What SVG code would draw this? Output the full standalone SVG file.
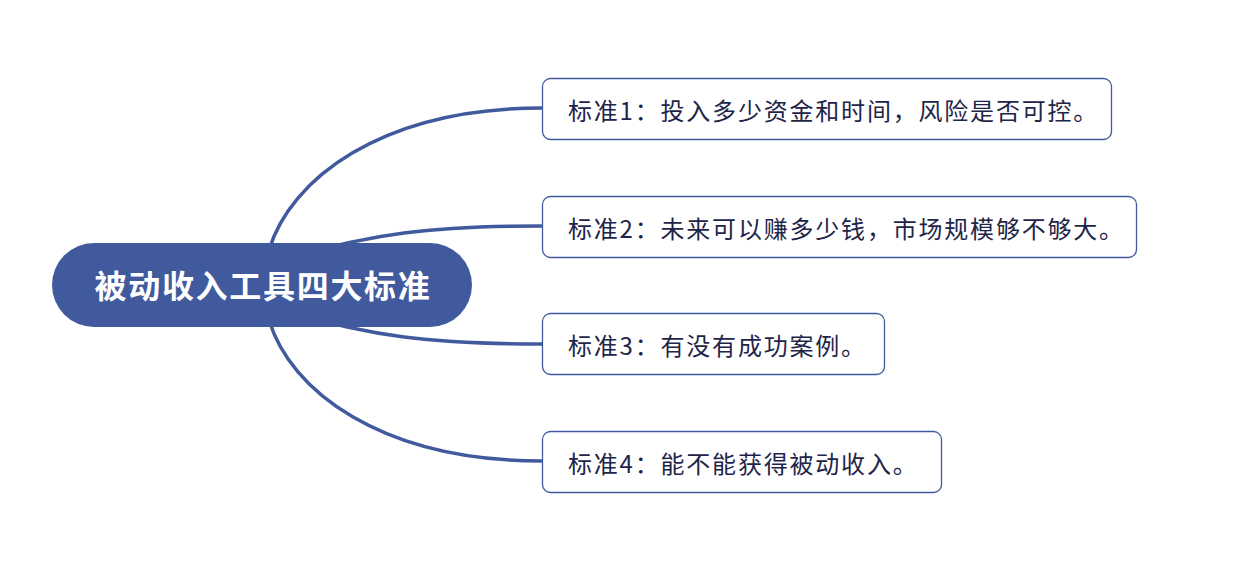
<svg xmlns="http://www.w3.org/2000/svg" width="1240" height="579" viewBox="0 0 1240 579">
<style>
.conn{fill:none;stroke:#415A9E;stroke-width:3.5;stroke-linecap:round}
.box{fill:#ffffff;stroke:#415A9E;stroke-width:1.3}
.lbl{font-family:"Microsoft YaHei","Noto Sans CJK SC",sans-serif;font-size:24px;fill:#1e2548;letter-spacing:1.8px}
.root{font-family:"Microsoft YaHei","Noto Sans CJK SC",sans-serif;font-size:32px;font-weight:bold;fill:#ffffff;letter-spacing:1.7px}
</style>
<rect width="1240" height="579" fill="#ffffff"/>
<g id="connectors">
<path class="conn" d="M269,250 C290,180 380,108 542,108"/>
<path class="conn" d="M290,258 C370,234 430,226 542,226"/>
<path class="conn" d="M290,312 C370,336 430,344 542,344"/>
<path class="conn" d="M269,320 C290,390 380,461 542,461"/>
</g>
<g id="root">
<rect x="52" y="243" width="420" height="84" rx="42" fill="#415A9E"/>
<text class="root" x="263" y="298" text-anchor="middle">被动收入工具四大标准</text>
</g>
<g id="n1">
<rect class="box" x="542.5" y="78.5" width="569" height="61" rx="8"/>
<text class="lbl" x="568" y="120">标准1：投入多少资金和时间，风险是否可控。</text>
</g>
<g id="n2">
<rect class="box" x="542.5" y="196.5" width="594" height="61" rx="8"/>
<text class="lbl" x="568" y="238">标准2：未来可以赚多少钱，市场规模够不够大。</text>
</g>
<g id="n3">
<rect class="box" x="542.5" y="313.5" width="342" height="61" rx="8"/>
<text class="lbl" x="568" y="355">标准3：有没有成功案例。</text>
</g>
<g id="n4">
<rect class="box" x="542.5" y="431.5" width="399" height="61" rx="8"/>
<text class="lbl" x="568" y="473">标准4：能不能获得被动收入。</text>
</g>
</svg>
